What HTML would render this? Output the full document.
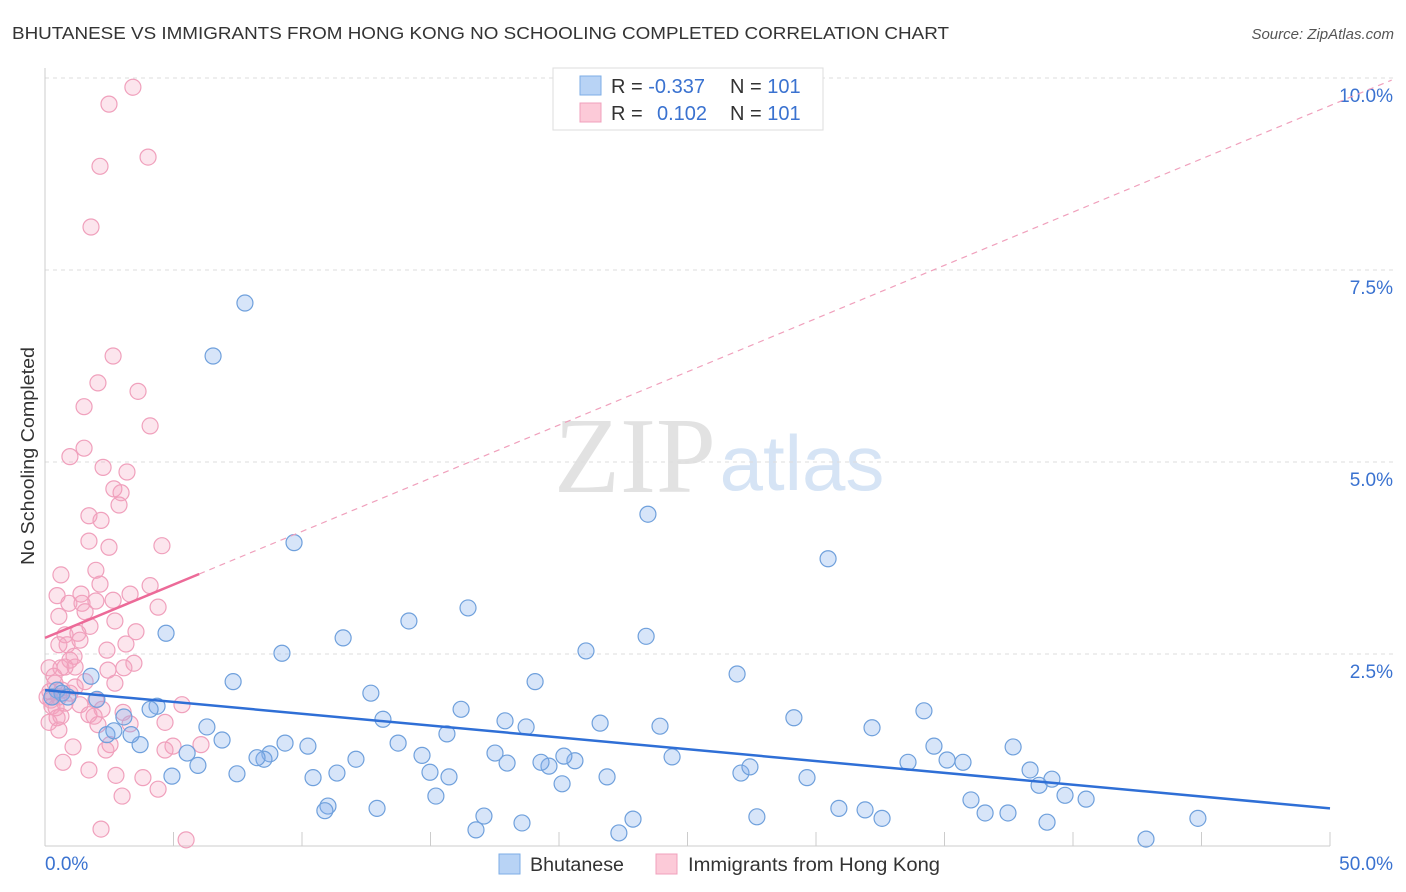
<!DOCTYPE html>
<html><head><meta charset="utf-8"><style>
body{margin:0;background:#fff;font-family:"Liberation Sans",sans-serif;}
svg{display:block}
</style></head><body>
<svg id="chart" width="1406" height="892">
<text x="12" y="39" font-size="17.5" fill="#333" textLength="937" lengthAdjust="spacingAndGlyphs">BHUTANESE VS IMMIGRANTS FROM HONG KONG NO SCHOOLING COMPLETED CORRELATION CHART</text>
<text x="1394" y="39" font-size="15" fill="#555" font-style="italic" text-anchor="end">Source: ZipAtlas.com</text>
<text x="635" y="492" font-size="108" fill="#e2e2e2" font-family="Liberation Serif,serif" text-anchor="middle">ZIP</text>
<text x="802" y="490" font-size="78" fill="#d6e4f5" text-anchor="middle">atlas</text>
<g id="grid"></g>
<g id="marks"></g>
<text transform="translate(34,456) rotate(-90)" font-size="18" fill="#333" text-anchor="middle" textLength="218" lengthAdjust="spacingAndGlyphs">No Schooling Completed</text>
<g>
<rect x="553" y="68" width="270" height="62" fill="#fff" stroke="#ddd"/>
<rect x="580" y="76" width="21" height="19" fill="#b8d3f5" stroke="#7eaee6"/>
<rect x="580" y="103" width="21" height="19" fill="#fccad8" stroke="#f0a0bc"/>
<text x="611" y="93" font-size="20" fill="#333">R = <tspan fill="#3a72d0">-0.337</tspan></text>
<text x="730" y="93" font-size="20" fill="#333">N = <tspan fill="#3a72d0">101</tspan></text>
<text x="611" y="120" font-size="20" fill="#333">R = <tspan fill="#3a72d0" x="657">0.102</tspan></text>
<text x="730" y="120" font-size="20" fill="#333">N = <tspan fill="#3a72d0">101</tspan></text>
</g>
<g>
<rect x="499" y="854" width="21" height="20" fill="#b8d3f5" stroke="#7eaee6"/>
<text x="530" y="871" font-size="19" fill="#333" textLength="94" lengthAdjust="spacingAndGlyphs">Bhutanese</text>
<rect x="656" y="854" width="21" height="20" fill="#fccad8" stroke="#f0a0bc"/>
<text x="688" y="871" font-size="19" fill="#333" textLength="252" lengthAdjust="spacingAndGlyphs">Immigrants from Hong Kong</text>
</g>
</svg>
<script>
const yTicks=[2.5,5.0,7.5,10.0];
const yTickLabels=["2.5%","5.0%","7.5%","10.0%"];
const xTicks=[0,5,10,15,20,25,30,35,40,45,50];
const xLabels=["0.0%","50.0%"];
const blueX=[7.78,6.54,9.69,23.46,30.47,4.71,1.79,2.02,0.47,0.66,0.89,0.27,7.32,9.22,11.60,14.16,16.46,19.07,21.05,23.39,26.93,12.68,16.19,13.15,17.90,18.72,21.60,23.93,29.14,32.18,34.20,37.67,34.59,35.10,35.72,33.58,27.08,27.43,24.40,21.87,20.62,20.19,19.61,19.30,17.98,17.51,15.72,14.98,14.67,15.64,13.74,12.10,11.36,10.43,10.23,9.34,8.75,8.52,8.25,7.47,6.89,6.30,5.95,5.53,4.94,4.36,4.09,3.70,3.35,3.07,2.41,2.68,11.01,10.89,12.92,15.21,17.08,16.77,18.56,20.12,22.33,22.88,27.70,30.89,31.91,32.57,36.03,36.58,37.47,38.33,38.68,39.18,39.69,40.51,38.99,42.84,44.86,29.65];
const blueY=[7.07,6.38,3.95,4.32,3.74,2.77,2.21,1.91,2.03,1.99,1.94,1.94,2.14,2.51,2.71,2.93,3.10,2.14,2.54,2.73,2.24,1.99,1.78,1.65,1.63,1.55,1.60,1.56,1.67,1.54,1.76,1.29,1.30,1.12,1.09,1.09,0.95,1.03,1.16,0.90,1.11,1.17,1.04,1.09,1.08,1.21,0.90,0.96,1.18,1.46,1.34,1.13,0.95,0.89,1.30,1.34,1.20,1.13,1.15,0.94,1.38,1.55,1.05,1.21,0.91,1.82,1.78,1.32,1.45,1.68,1.45,1.50,0.52,0.46,0.49,0.65,0.39,0.21,0.30,0.81,0.17,0.35,0.38,0.49,0.47,0.36,0.60,0.43,0.43,0.99,0.79,0.87,0.66,0.61,0.31,0.09,0.36,0.89];
const pinkX=[3.42,2.49,4.01,2.14,1.79,2.65,2.06,3.62,1.52,4.09,1.52,0.97,2.26,3.19,2.68,2.96,2.88,1.71,2.18,1.71,2.49,4.55,0.62,1.98,2.14,4.09,0.47,0.93,1.44,1.98,1.40,2.65,3.31,4.40,0.54,1.56,1.75,1.28,2.72,3.54,0.78,0.86,1.36,2.41,3.15,0.54,1.13,0.97,0.78,0.62,0.16,0.35,1.17,3.46,3.07,1.56,2.72,2.45,0.39,0.66,0.97,1.17,0.19,0.08,0.54,0.27,0.78,1.36,1.98,2.22,5.33,3.04,3.31,4.67,1.91,0.47,0.62,1.71,2.06,0.16,0.54,1.09,2.53,2.37,4.98,6.07,4.67,0.70,1.71,2.76,3.81,4.40,3.00,2.18,5.49,0.23,0.43];
const pinkY=[9.88,9.66,8.97,8.85,8.06,6.38,6.03,5.92,5.72,5.47,5.18,5.07,4.93,4.87,4.65,4.60,4.44,4.30,4.24,3.97,3.89,3.91,3.53,3.59,3.41,3.39,3.26,3.16,3.16,3.19,3.28,3.20,3.28,3.11,2.99,3.05,2.86,2.77,2.93,2.79,2.75,2.62,2.68,2.55,2.63,2.62,2.47,2.42,2.33,2.32,2.32,2.21,2.33,2.38,2.32,2.14,2.12,2.29,2.12,2.03,1.99,2.07,2.01,1.94,1.94,1.82,1.86,1.84,1.90,1.78,1.84,1.74,1.59,1.61,1.69,1.67,1.69,1.71,1.58,1.61,1.51,1.29,1.32,1.25,1.30,1.32,1.25,1.09,0.99,0.92,0.89,0.74,0.65,0.22,0.08,1.90,1.80];
const blueTrend=[2.03,0.49];
const pinkTrend=[2.71,0.1386];
const pinkSolidEnd=6.0;
const pinkDashEnd=52.4;

const NS="http://www.w3.org/2000/svg";
const xs=v=>45+v*25.7;
const ys=v=>846-v*76.8;
function mk(tag,attrs,parent){const e=document.createElementNS(NS,tag);for(const k in attrs)e.setAttribute(k,attrs[k]);parent.appendChild(e);return e;}
const grid=document.getElementById('grid'),marks=document.getElementById('marks');
yTicks.forEach((t,i)=>{
 const l=mk('line',{x1:45,x2:1393,y1:ys(t),y2:ys(t),stroke:'#ddd','stroke-dasharray':'4,4'},grid);
 
 
 const tx=mk('text',{x:1393,y:ys(t)+24,'font-size':19,fill:'#3a72d0','text-anchor':'end'},grid);
 tx.textContent=yTickLabels[i];
 
 
});
const ax=mk('line',{x1:45,x2:45,y1:68,y2:846,stroke:'#ccc'},grid);


const bx=mk('line',{x1:45,x2:1330,y1:846,y2:846,stroke:'#ccc'},grid);


xTicks.forEach(t=>{
 const l=mk('line',{x1:xs(t),x2:xs(t),y1:832,y2:846,stroke:'#ccc'},grid);
 
 
});
[[0,'start',45],[50,'end',1393]].forEach((d,i)=>{
 const tx=mk('text',{x:d[2],y:870,'font-size':19,fill:'#3a72d0','text-anchor':d[1]},grid);
 tx.textContent=xLabels[i];
 
 
});
pinkX.forEach((v,i)=>{
 const c=mk('circle',{cx:xs(v),cy:ys(pinkY[i]),r:8,fill:'rgba(245,160,190,0.28)',stroke:'#f0a0bc','stroke-width':1.2},marks);
 
 
});
blueX.forEach((v,i)=>{
 const c=mk('circle',{cx:xs(v),cy:ys(blueY[i]),r:8,fill:'rgba(130,175,235,0.32)',stroke:'#6fa0dc','stroke-width':1.2},marks);
 
 
});
const bl=mk('line',{x1:xs(0),y1:ys(blueTrend[0]),x2:xs(50),y2:ys(blueTrend[1]),stroke:'#2f6fd6','stroke-width':2.5},marks);


const pd=mk('line',{x1:xs(pinkSolidEnd),y1:ys(pinkTrend[0]+pinkTrend[1]*pinkSolidEnd),x2:xs(pinkDashEnd),y2:ys(pinkTrend[0]+pinkTrend[1]*pinkDashEnd),stroke:'#f0a0bc','stroke-width':1.2,'stroke-dasharray':'6,5'},marks);


const ps=mk('line',{x1:xs(0),y1:ys(pinkTrend[0]),x2:xs(pinkSolidEnd),y2:ys(pinkTrend[0]+pinkTrend[1]*pinkSolidEnd),stroke:'#ec6a98','stroke-width':2.5},marks);


</script>
</body></html>
